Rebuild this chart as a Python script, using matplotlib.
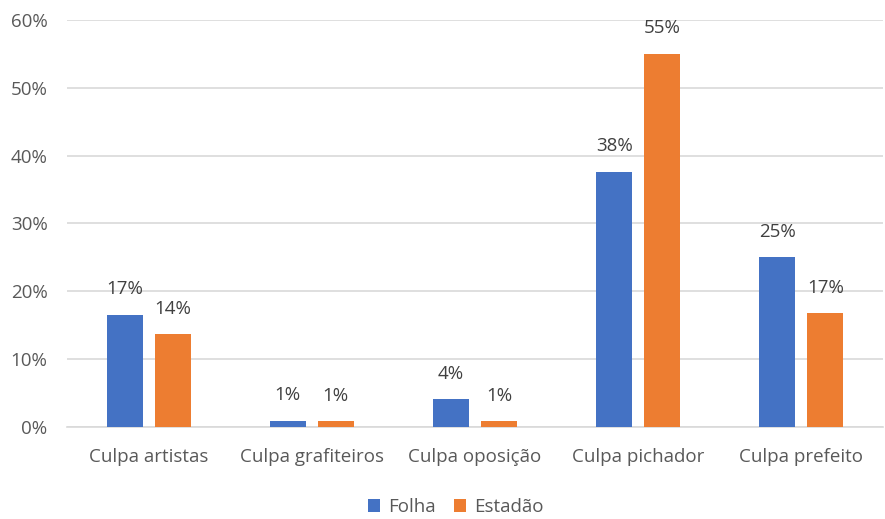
import numpy as np
import matplotlib.pyplot as plt

# Dados da pesquisa
categorias = ['Culpa artistas', 'Culpa grafiteiros', 'Culpa oposição',
              'Culpa pichador', 'Culpa prefeito']
folha = [0.166, 0.010, 0.041, 0.376, 0.250]
estadao = [0.137, 0.009, 0.009, 0.550, 0.168]
series = ['Folha', 'Estadão']
cores = ['#4472C4', '#ED7D31']

cinza = '#595959'
tam = 13.5
plt.rcParams['font.family'] = ['Open Sans', 'DejaVu Sans']

fig = plt.figure(figsize=(8.85, 5.19), dpi=100)
ax = fig.add_axes([67 / 885, 1 - 427.3 / 519, 816 / 885, (427.3 - 19.7) / 519])

x = np.arange(len(categorias))
largura = 0.22
desloc = 0.147

for valores, nome, cor, d in zip([folha, estadao], series, cores, [-desloc, desloc]):
    barras = ax.bar(x + d, valores, largura, color=cor, label=nome, zorder=3)
    ax.bar_label(barras, labels=[f'{v:.0%}' for v in valores], padding=12,
                 fontsize=tam, color='#404040')

ax.set_xlim(-0.5, len(categorias) - 0.5)
ax.set_ylim(0, 0.6)
ax.set_yticks(np.arange(0, 0.61, 0.1))
ax.set_yticklabels([f'{int(round(t * 100))}%' for t in np.arange(0, 0.61, 0.1)])
ax.set_xticks(x)
ax.set_xticklabels(categorias)

ax.tick_params(axis='both', length=0, colors=cinza, labelsize=tam)
ax.tick_params(axis='y', pad=14)
ax.tick_params(axis='x', pad=15)
ax.grid(axis='y', color='#D9D9D9', linewidth=1.2, zorder=0)
for lado in ['top', 'right', 'left']:
    ax.spines[lado].set_visible(False)
ax.spines['bottom'].set_color('#D9D9D9')
ax.spines['bottom'].set_linewidth(1.2)

fig.legend(loc='center', bbox_to_anchor=(0.515, 1 - 507 / 519),
           ncol=2, frameon=False, fontsize=tam, labelcolor=cinza,
           handlelength=0.65, handleheight=0.65, handletextpad=0.4, columnspacing=1.0)

fig.savefig('out.png', dpi=100)
